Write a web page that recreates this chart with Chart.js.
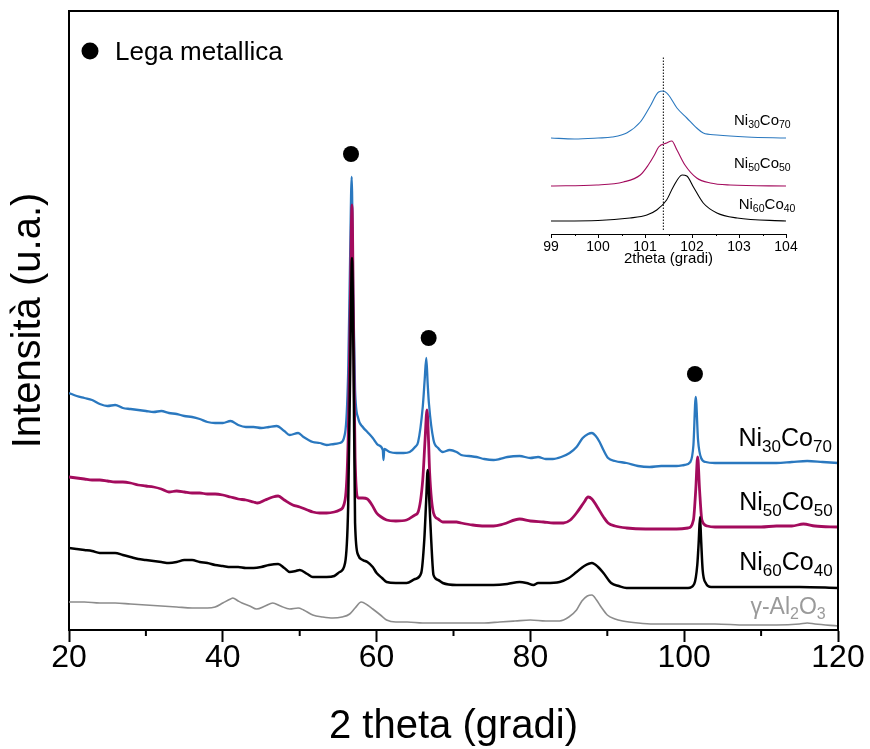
<!DOCTYPE html>
<html>
<head>
<meta charset="utf-8">
<script src="https://cdn.jsdelivr.net/npm/chart.js@4.4.1/dist/chart.umd.min.js"></script>
<style>
  body { margin: 0; background: #fff; }
  #wrap { position: relative; width: 870px; height: 749px; }
  #mainChart { position: absolute; left: 0; top: 0; }
  #insetChart { position: absolute; left: 500px; top: 40px; }
</style>
</head>
<body>
<div id="wrap">
  <canvas id="mainChart" width="870" height="749"></canvas>
  <canvas id="insetChart" width="320" height="230"></canvas>
</div>
<script>
// dati (intensità in unità arbitrarie, 2theta in gradi)

const th3070 = [20,21,22,23,24,25,26,27,28,29,30,31,32,33,34,35,36,37,38,39,40,41,42,43,44,45,46,47,48,
  48.7,49.8,50.5,51.7,52.6,53.5,54.5,55.2,55.9,
  56.3,56.55,56.76,56.95,57.2,57.6,58.2,58.8,59.5,60.2,60.8,60.9,61.0,
  61.7,62.6,63.5,64.3,65.0,65.4,66.0,66.25,66.46,66.65,66.8,67.4,68.0,68.6,69.5,70.4,
  71,72,73,74,75.2,76,77,78.6,80,81,82,82.9,84,85.1,86,86.8,87.5,88.0,88.5,89,89.5,90.1,91,92.5,94,95.5,97,99,100,100.8,101.2,101.5,101.8,102.2,102.8,104,
  106,108,110,112,114,116,118,120];
const int3070 = [235,232,230,228,224,222,223,220,219,218,217,216,217,215,214,212,211,209,206,205,205,207,203,201,201,200,201,202,197,
  193,195,191,186,185,183,184,185,195,
  255,368,451,338,238,210,201,196,190,183,178,168,179,
  176,175,175,176,181,186,221,248,270,243,225,188,180,176,178,176,
  173,172,171,169,168,169,171,172,170,171,169,169,171,175,181,190,194,195,192,186,178,170,167,165,162,161,162,162,163,166,183,231,188,170,166,165,
  165,165,165,165,166,167,166,165];

const th5050 = [20,21,22,23,24,25,26,27,28,29,30,31,32,33,34,35,36,37,38,39,40,41,42,43,44,
  44.5,45.5,46.5,47.2,48,49.1,50,51,51.7,52.6,53.5,54.5,55.2,55.9,
  56.3,56.55,56.8,57.0,57.2,57.6,58.2,58.8,59.4,60,60.6,61.3,62.5,63.9,65,65.4,
  66.0,66.3,66.55,66.75,66.9,67.4,68.0,68.6,70.4,71,72.5,74,75.2,76.5,78.6,80,81.7,83,84.3,85.2,86,87,87.5,88,88.7,89.5,90.1,91,92.5,95,97,99,100.5,
  101.2,101.5,101.75,102.0,102.3,103,104,106,108,110,112,114,115.5,117,120];
const int5050 = [151,150,149,148,148,147,146,146,145,143,142,141,139,136,137,136,135,135,134,134,133,131,129,128,126,
  125,128,131,132,128,123,121,118,116,115,115,116,118,128,
  188,308,423,298,171,130,130,129,123,115,111,108,107,108,113,116,
  148,188,218,188,155,115,109,106,106,105,103,102,102,104,109,107,106,105,105,108,115,126,131,129,121,111,105,102,100,99,99,99,100,
  108,138,171,138,108,102,101,101,101,101,102,102,104,102,101];

const th6040 = [20,21,22,23,24,25,26,27,28,29,30,31,32,33,34,35,36,37,38,39,40,41,42,43,44,45,46,
  47.2,48,48.7,49.5,50,51,51.7,52.6,53.5,54.5,55.2,55.9,
  56.3,56.6,56.8,57.0,57.2,57.6,58.2,58.8,59.5,60,60.7,61.3,62.5,63.9,65,65.8,
  66.2,66.45,66.64,66.85,67.1,67.4,68,68.6,70.4,72,74,75.2,77,78.6,79.5,80.4,81,82,83.8,85,86,87,88,88.8,89.5,90.5,91.5,92.5,95,97,99,100.5,
  101.3,101.7,101.9,102.05,102.2,102.4,102.8,103.5,105,110,115,120];
const int6040 = [80,79,78,77,75,75,75,73,71,69,68,67,66,65,66,68,68,66,65,63,62,61,61,60,60,61,63,
  64,60,56,57,58,54,51,51,51,52,56,65,
  121,278,370,268,105,73,68,66,61,55,50,46,45,45,49,55,
  88,128,158,128,88,53,48,45,43,43,43,43,44,46,45,43,45,45,46,50,56,62,65,61,55,45,42,40,40,40,40,40,
  44,63,88,111,88,58,45,41,41,41,41,40];

const thAl2O3 = [20,22,24,26,28,30,32,34,36,38,
  39,40,41,41.3,42,42.5,43.5,44.4,45.5,46.5,47.5,48.7,49.8,50.5,51.7,53,54.3,55.5,56.5,57.2,
  58,58.8,59.5,60.5,61.3,62.5,64,66,68,70,72,74,76,78,80,82,83.8,85,86,86.7,
  87.4,88,88.6,89.2,90,91,92,94,96,98,100,104,108,112,115,116,117,120];
const intAl2O3 = [26,26,25,25,24,23,22,21,20,20,
  21,25,29,30,27,25,22,19,22,25,22,19,20,18,13,11,10,11,14,20,
  26,23,19,13,8,6,6,5,5,5,5,5,6,7,8,7,7,11,18,27,
  32,33,28,21,13,9,7,5,4,4,4,4,3,3,4,5,4,2];

// picchi della lega metallica
const legaTheta = [56.67, 66.77, 101.4];
const legaInt = [474, 290, 254];

// etichette delle curve (parti alterne: testo normale / pedice)
const curveNames = [['Ni','30','Co','70'], ['Ni','50','Co','50'], ['Ni','60','Co','40'], ['γ-Al','2','O','3']];
const curveNameX = [119.2, 119.3, 119.3, 118.4];
const curveNameY = [182, 118, 58, 14];
const curveColors = ['#2a78bf', '#a30b5d', '#000000', '#8c8c8c'];

const xTicks = [20, 40, 60, 80, 100, 120];
const xMinor = [30, 50, 70, 90, 110];

// riquadro: zoom sul picco a ~101.5
const insetTheta3070 = [99,99.5,100,100.3,100.61,100.9,101.1,101.29,101.39,101.5,101.68,101.89,102.1,102.24,102.53,103.17,104];
const insetInt3070 = [96,95,96,97,101,112,127,142,143,139,126,116,106,101,99,97,96];
const insetTheta5050 = [99,99.97,100.54,100.9,101.07,101.2,101.29,101.46,101.57,101.68,101.85,102.1,102.39,102.81,104];
const insetInt5050 = [48,49,52,59,69,79,87,91,93,84,69,56,51,49,48];
const insetTheta6040 = [99,100,100.68,101.04,101.25,101.46,101.6,101.79,101.89,102.03,102.24,102.53,102.96,104];
const insetInt6040 = [13,13.5,16,19,24,34,47,59,58,47,31,21,16,13];
const insetRefTheta = 101.39;
const insetRefSpan = [4, 178];
const insetNameX = [104.1, 104.1, 104.2];
const insetNameY = [109, 66, 25];
const insetMinor = [99.5, 100.5, 101.5, 102.5, 103.5];

const FONT = '"Liberation Sans", Arial, sans-serif';

function pts(xs, ys) {
  return xs.map((x, i) => ({ x: x, y: ys[i] }));
}

// testo con pedici, allineato a destra
function drawRich(ctx, parts, xRight, yBase, size, subSize, color) {
  let total = 0;
  parts.forEach((p, i) => {
    ctx.font = (i % 2 ? subSize : size) + 'px ' + FONT;
    total += ctx.measureText(p).width;
  });
  let x = xRight - total;
  ctx.fillStyle = color;
  ctx.textAlign = 'left';
  ctx.textBaseline = 'alphabetic';
  parts.forEach((p, i) => {
    const sub = i % 2 === 1;
    ctx.font = (sub ? subSize : size) + 'px ' + FONT;
    ctx.fillText(p, x, yBase + (sub ? size * 0.22 : 0));
    x += ctx.measureText(p).width;
  });
}

const mainExtras = {
  id: 'mainExtras',
  afterDraw(chart) {
    const ctx = chart.ctx;
    const a = chart.chartArea;
    const xs = chart.scales.x, ys = chart.scales.y;
    ctx.save();
    // cornice sopra e a destra
    ctx.strokeStyle = '#000';
    ctx.lineWidth = 2;
    ctx.beginPath();
    ctx.moveTo(a.left, a.top);
    ctx.lineTo(a.right, a.top);
    ctx.lineTo(a.right, a.bottom);
    ctx.stroke();
    // tacche minori
    xMinor.forEach(v => {
      const px = xs.getPixelForValue(v);
      ctx.beginPath();
      ctx.moveTo(px, a.bottom);
      ctx.lineTo(px, a.bottom + 6);
      ctx.stroke();
    });
    // etichette delle curve
    curveNames.forEach((parts, i) => {
      const big = i === 3 ? 23 : 25;
      const small = i === 3 ? 16 : 17;
      const col = i === 3 ? '#9a9a9a' : '#000';
      drawRich(ctx, parts, xs.getPixelForValue(curveNameX[i]), ys.getPixelForValue(curveNameY[i]), big, small, col);
    });
    // legenda
    ctx.fillStyle = '#000';
    ctx.beginPath();
    ctx.arc(a.left + 21, a.top + 40, 8.5, 0, Math.PI * 2);
    ctx.fill();
    ctx.font = '26px ' + FONT;
    ctx.textBaseline = 'alphabetic';
    ctx.fillText('Lega metallica', a.left + 46, a.top + 49);
    ctx.restore();
  }
};

const lineStyle = (label, xs, ys, color, w) => ({
  label: label,
  data: pts(xs, ys),
  borderColor: color,
  backgroundColor: color,
  borderWidth: w,
  pointRadius: 0,
  cubicInterpolationMode: 'monotone',
  fill: false
});

new Chart(document.getElementById('mainChart'), {
  type: 'line',
  data: {
    datasets: [
      lineStyle('γ-Al2O3', thAl2O3, intAl2O3, curveColors[3], 1.6),
      lineStyle('Ni60Co40', th6040, int6040, curveColors[2], 2.5),
      lineStyle('Ni50Co50', th5050, int5050, curveColors[1], 2.8),
      lineStyle('Ni30Co70', th3070, int3070, curveColors[0], 2.3),
      {
        type: 'scatter',
        label: 'Lega metallica',
        data: pts(legaTheta, legaInt),
        pointRadius: 8,
        pointBackgroundColor: '#000',
        pointBorderWidth: 0,
        showLine: false
      }
    ]
  },
  options: {
    responsive: false,
    animation: false,
    events: [],
    layout: { padding: { top: 11, right: 32, left: 0, bottom: 0 } },
    plugins: { legend: { display: false }, tooltip: { enabled: false } },
    scales: {
      x: {
        type: 'linear',
        min: 20,
        max: 120,
        afterBuildTicks: (scale) => { scale.ticks = xTicks.map(v => ({ value: v })); },
        afterFit: (scale) => { scale.height = 119; },
        grid: { display: true, drawOnChartArea: false, drawTicks: true, tickLength: 12, tickWidth: 2, tickColor: '#000' },
        border: { display: true, color: '#000', width: 2 },
        ticks: { color: '#000', padding: 0, maxRotation: 0, font: { family: FONT, size: 32, lineHeight: 1 } },
        title: { display: true, text: '2 theta (gradi)', color: '#000', padding: { top: 0, bottom: 2 }, font: { family: FONT, size: 40, lineHeight: 1 } }
      },
      y: {
        min: -2,
        max: 617,
        afterFit: (scale) => { scale.width = 69; },
        grid: { display: false },
        border: { display: true, color: '#000', width: 2 },
        ticks: { display: false },
        title: { display: true, text: 'Intensità (u.a.)', color: '#000', padding: { top: 9, bottom: 0 }, font: { family: FONT, size: 40, lineHeight: 1 } }
      }
    }
  },
  plugins: [mainExtras]
});

const insetExtras = {
  id: 'insetExtras',
  afterDraw(chart) {
    const ctx = chart.ctx;
    const a = chart.chartArea;
    const xs = chart.scales.x, ys = chart.scales.y;
    ctx.save();
    ctx.strokeStyle = '#000';
    ctx.lineWidth = 1;
    insetMinor.forEach(v => {
      const px = Math.round(xs.getPixelForValue(v)) + 0.5;
      ctx.beginPath();
      ctx.moveTo(px, a.bottom);
      ctx.lineTo(px, a.bottom + 2);
      ctx.stroke();
    });
    curveNames.slice(0, 3).forEach((parts, i) => {
      drawRich(ctx, parts, xs.getPixelForValue(insetNameX[i]), ys.getPixelForValue(insetNameY[i]), 15, 10.5, '#000');
    });
    ctx.restore();
  }
};

new Chart(document.getElementById('insetChart'), {
  type: 'line',
  data: {
    datasets: [
      lineStyle('Ni60Co40', insetTheta6040, insetInt6040, curveColors[2], 1.1),
      lineStyle('Ni50Co50', insetTheta5050, insetInt5050, curveColors[1], 1.1),
      lineStyle('Ni30Co70', insetTheta3070, insetInt3070, curveColors[0], 1.1),
      {
        label: 'rif',
        data: pts([insetRefTheta, insetRefTheta], insetRefSpan),
        borderColor: '#000',
        borderWidth: 1,
        borderDash: [1.5, 1.5],
        pointRadius: 0
      }
    ]
  },
  options: {
    responsive: false,
    animation: false,
    events: [],
    layout: { padding: { top: 10, right: 34, left: 51, bottom: 0 } },
    plugins: { legend: { display: false }, tooltip: { enabled: false } },
    scales: {
      x: {
        type: 'linear',
        min: 99,
        max: 104,
        afterFit: (scale) => { scale.height = 36; },
        grid: { display: true, drawOnChartArea: false, drawTicks: true, tickLength: 4, tickWidth: 1, tickColor: '#000' },
        border: { display: true, color: '#000', width: 1 },
        ticks: { stepSize: 1, color: '#000', padding: 2, maxRotation: 0, font: { family: FONT, size: 14, lineHeight: 1 } },
        title: { display: true, text: '2theta (gradi)', color: '#000', padding: { top: 0, bottom: 4 }, font: { family: FONT, size: 15, lineHeight: 1 } }
      },
      y: { display: false, min: 0, max: 184 }
    }
  },
  plugins: [insetExtras]
});
</script>
</body>
</html>
